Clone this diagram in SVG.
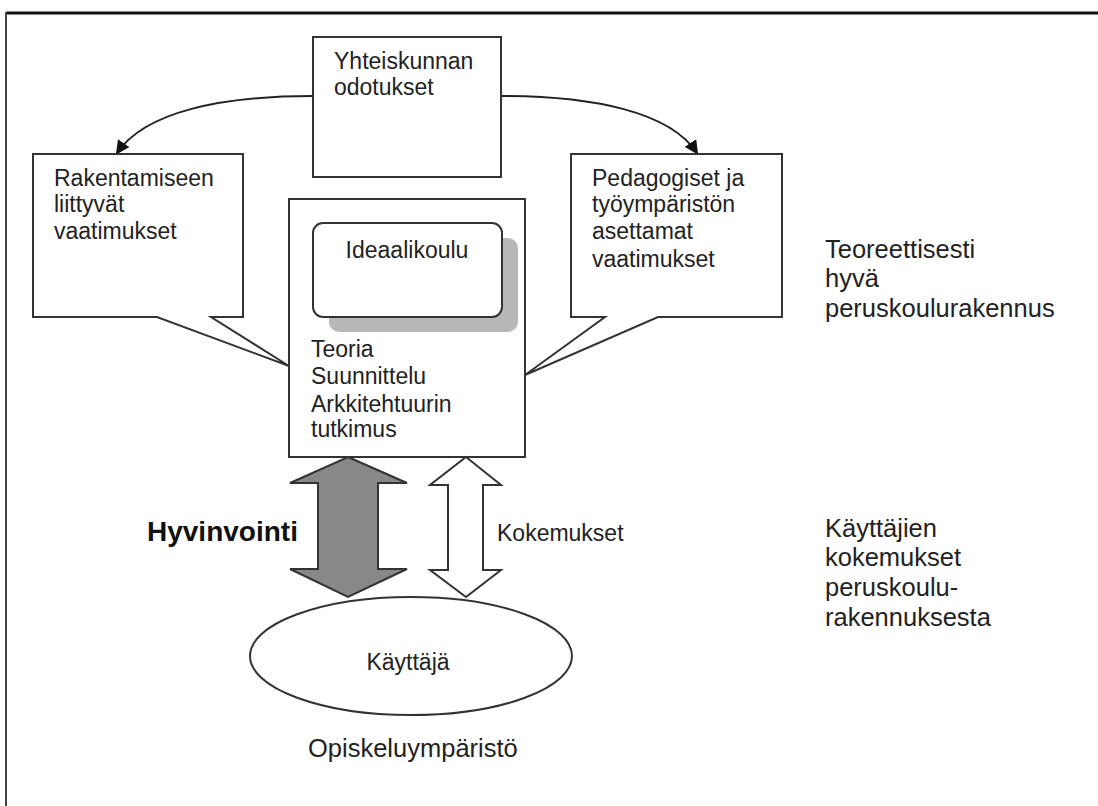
<svg xmlns="http://www.w3.org/2000/svg" width="1098" height="806" viewBox="0 0 1098 806">
<style>
.box{fill:#fff;stroke:#333;stroke-width:2}
.t{font-family:"Liberation Sans",Arial,sans-serif;font-size:23px;fill:#222}
.lbl{font-family:"Liberation Sans",Arial,sans-serif;font-size:25.5px;fill:#222}
.conn{fill:none;stroke:#222;stroke-width:2}
</style>
<defs>
<marker id="ah" markerWidth="14" markerHeight="14" refX="12" refY="7" orient="auto" markerUnits="userSpaceOnUse">
<path d="M0,0 L14,7 L0,14 Z" fill="#111"/>
</marker>
</defs>
<rect width="1098" height="806" fill="#fff"/>
<g id="frame">
<line x1="6" y1="13" x2="1098" y2="13" stroke="#111" stroke-width="3"/>
<line x1="6" y1="12" x2="6" y2="806" stroke="#444" stroke-width="2"/>
</g>
<g id="connectors">
<path class="conn" d="M313,96 C220,96 145,112 117,153" marker-end="url(#ah)"/>
<path class="conn" d="M501,96 C594,96 670,112 697,153" marker-end="url(#ah)"/>
</g>
<g id="yhteiskunnan">
<rect class="box" x="313" y="37" width="188" height="140"/>
<text class="t" x="334" y="69">Yhteiskunnan</text>
<text class="t" x="334" y="95">odotukset</text>
</g>
<g id="rakentamiseen">
<path class="box" d="M33,154 H243 V317 H211 L289,366 L157,317 H33 Z"/>
<text class="t" x="54" y="186">Rakentamiseen</text>
<text class="t" x="54" y="212">liittyvät</text>
<text class="t" x="54" y="239">vaatimukset</text>
</g>
<g id="pedagogiset">
<path class="box" d="M571,154 H782 V317 H658 L525,375 L605,317 H571 Z"/>
<text class="t" x="592" y="186">Pedagogiset ja</text>
<text class="t" x="592" y="212">työympäristön</text>
<text class="t" x="592" y="239">asettamat</text>
<text class="t" x="592" y="267">vaatimukset</text>
</g>
<g id="teoria">
<rect class="box" x="289" y="199" width="236" height="258"/>
<rect x="329" y="238" width="189" height="94" rx="10" fill="#b8b8b8"/>
<rect class="box" x="313" y="223" width="189" height="94" rx="10"/>
<text class="t" x="407" y="258" text-anchor="middle">Ideaalikoulu</text>
<text class="t" x="311" y="357">Teoria</text>
<text class="t" x="311" y="384">Suunnittelu</text>
<text class="t" x="311" y="412">Arkkitehtuurin</text>
<text class="t" x="311" y="437">tutkimus</text>
</g>
<g id="hyvinvointi">
<path d="M348,457 L407,483 H378 V569 H407 L348,597 L290,569 H318 V483 H290 Z" fill="#888" stroke="#333" stroke-width="2" stroke-linejoin="miter"/>
<text x="147" y="541" font-family="Liberation Sans,Arial,sans-serif" font-size="28" font-weight="bold" fill="#111">Hyvinvointi</text>
</g>
<g id="kokemukset">
<path d="M466,457 L501,485 H483 V570 H501 L466,597 L430,570 H448 V485 H430 Z" fill="#fff" stroke="#333" stroke-width="2"/>
<text class="t" x="497" y="541">Kokemukset</text>
</g>
<g id="kayttaja">
<ellipse class="box" cx="411" cy="656" rx="161" ry="59"/>
<text class="t" x="408" y="670" text-anchor="middle">Käyttäjä</text>
</g>
<g id="labels">
<text class="lbl" x="825" y="258">Teoreettisesti</text>
<text class="lbl" x="825" y="287">hyvä</text>
<text class="lbl" x="825" y="317">peruskoulurakennus</text>
<text class="lbl" x="825" y="537">Käyttäjien</text>
<text class="lbl" x="825" y="566">kokemukset</text>
<text class="lbl" x="825" y="596">peruskoulu-</text>
<text class="lbl" x="825" y="626">rakennuksesta</text>
<text class="lbl" x="308" y="757">Opiskeluympäristö</text>
</g>
</svg>
